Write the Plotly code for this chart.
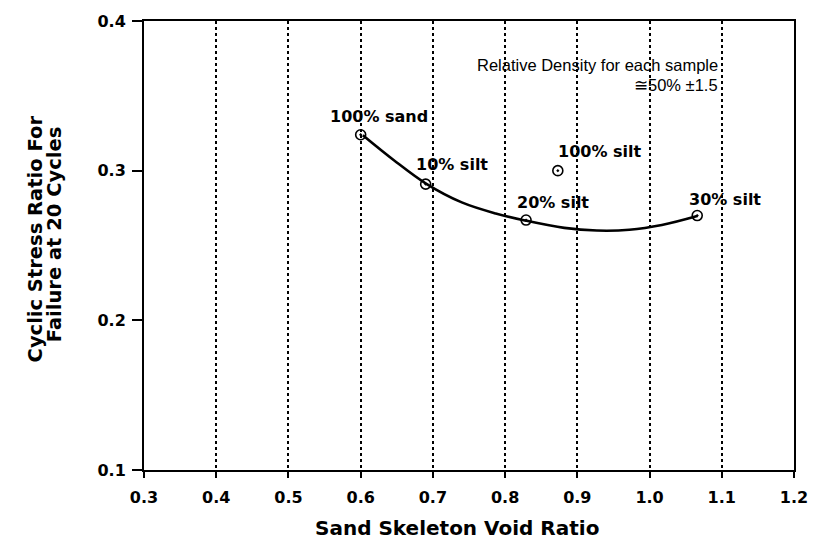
import plotly.graph_objects as go

# Measured samples
sample_labels = ["100% sand", "10% silt", "20% silt", "100% silt", "30% silt"]
sample_x = [0.600, 0.690, 0.829, 0.873, 1.066]
sample_y = [0.324, 0.291, 0.267, 0.300, 0.270]

# Trend curve
curve_x = [0.603, 0.646, 0.691, 0.740, 0.787, 0.829, 0.882, 0.927, 0.972, 1.017, 1.066]
curve_y = [0.3237, 0.3070, 0.2912, 0.2788, 0.2714, 0.2666, 0.2618, 0.2600, 0.2605, 0.2637, 0.2697]

# Label positions (data coordinates)
label_x = [0.626, 0.727, 0.866, 0.931, 1.104]
label_y = [0.336, 0.304, 0.2785, 0.3125, 0.2807]

x_ticks = [0.3, 0.4, 0.5, 0.6, 0.7, 0.8, 0.9, 1.0, 1.1, 1.2]
x_tick_text = ["0.3", "0.4", "0.5", "0.6", "0.7", "0.8", "0.9", "1.0", "1.1", "1.2"]
y_ticks = [0.1, 0.2, 0.3, 0.4]
y_tick_text = ["0.1", "0.2", "0.3", "0.4"]

BOLD = "DejaVu Sans"

fig = go.Figure()
fig.add_trace(go.Scatter(
    x=curve_x, y=curve_y, mode="lines",
    line=dict(color="black", width=2.6, shape="spline", smoothing=1.0),
    hoverinfo="skip", showlegend=False,
))
fig.add_trace(go.Scatter(
    x=sample_x, y=sample_y, mode="markers",
    marker=dict(symbol="circle-open-dot", size=10, color="black",
                line=dict(width=1.6, color="black")),
    showlegend=False,
))

for t, x, y in zip(sample_labels, label_x, label_y):
    fig.add_annotation(x=x, y=y, xref="x", yref="y", text="<b>" + t + "</b>",
                       showarrow=False, xanchor="center", yanchor="middle",
                       font=dict(family=BOLD, size=16, color="black"))

# Note
fig.add_annotation(x=(727 - 144) / 658, y=(470 - 59.5) / 455, xref="paper", yref="paper",
                   text="Relative Density for each sample", showarrow=False,
                   xanchor="right", yanchor="middle",
                   font=dict(family="Liberation Sans", size=16.5, color="black"))
fig.add_annotation(x=(727 - 144) / 658, y=(470 - 80) / 455, xref="paper", yref="paper",
                   text="≅50% ±1.5", showarrow=False,
                   xanchor="right", yanchor="middle",
                   font=dict(family="Liberation Sans", size=16.5, color="black"))

# Axis titles
fig.add_annotation(x=(461 - 144) / 658, y=(470 - 529) / 455, xref="paper", yref="paper",
                   text="<b>Sand Skeleton Void Ratio</b>", showarrow=False,
                   xanchor="center", yanchor="middle",
                   font=dict(family=BOLD, size=20, color="black"))
fig.add_annotation(x=(34 - 144) / 658, y=(470 - 236) / 455, xref="paper", yref="paper",
                   text="<b>Cyclic Stress Ratio For</b>", showarrow=False, textangle=-90,
                   xanchor="center", yanchor="middle",
                   font=dict(family=BOLD, size=19.5, color="black"))
fig.add_annotation(x=(53 - 144) / 658, y=(470 - 231) / 455, xref="paper", yref="paper",
                   text="<b>Failure at 20 Cycles</b>", showarrow=False, textangle=-90,
                   xanchor="center", yanchor="middle",
                   font=dict(family=BOLD, size=19.5, color="black"))

fig.update_xaxes(
    range=[0.3, 1.2], tickvals=x_ticks, ticktext=x_tick_text,
    showline=True, linecolor="black", linewidth=2, mirror=True,
    ticks="outside", ticklen=6, tickwidth=2, tickcolor="black",
    showgrid=True, gridcolor="black", gridwidth=1.5, griddash="dot",
    zeroline=False, ticklabelstandoff=6,
    tickfont=dict(family=BOLD, size=16, color="black", weight="bold"),
)
fig.update_yaxes(
    range=[0.1, 0.4], tickvals=y_ticks, ticktext=y_tick_text,
    showline=True, linecolor="black", linewidth=2, mirror=True,
    ticks="outside", ticklen=10, tickwidth=2, tickcolor="black",
    showgrid=False, zeroline=False, ticklabelstandoff=3,
    tickfont=dict(family=BOLD, size=16, color="black", weight="bold"),
)
fig.update_layout(
    width=820, height=542,
    margin=dict(l=144, r=18, t=15, b=72),
    paper_bgcolor="white", plot_bgcolor="white",
)
fig.write_html("out.html")
